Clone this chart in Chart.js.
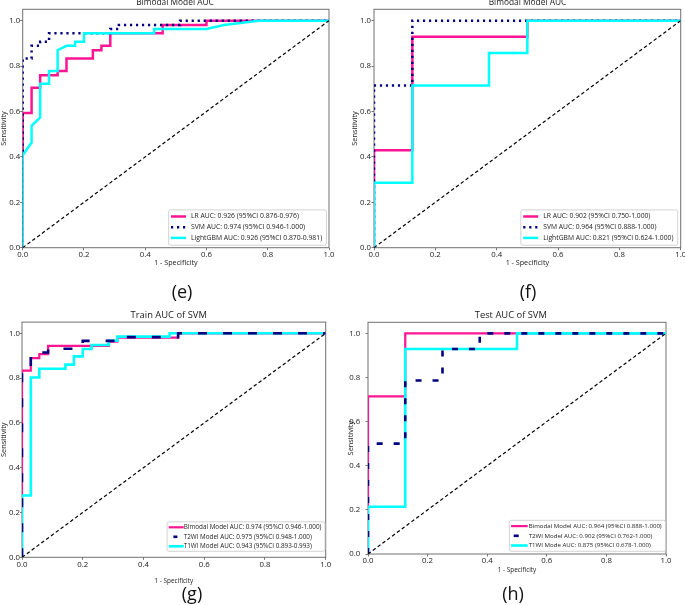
<!DOCTYPE html>
<html><head><meta charset="utf-8">
<script src="https://cdn.jsdelivr.net/npm/chart.js@4.4.1/dist/chart.umd.min.js"></script>
<style>
html,body{margin:0;padding:0;background:#fff;}
#wrap{position:relative;width:685px;height:605px;overflow:hidden;background:#fff;}
canvas{position:absolute;}
.tag{position:absolute;font-family:"Open Sans","Liberation Sans",sans-serif;font-size:18px;color:#111;transform:translate(-50%,-50%);line-height:1;white-space:nowrap;}
</style></head><body>
<div id="wrap">
<canvas id="c1" width="342" height="275" style="left:0px;top:0px"></canvas>
<canvas id="c2" width="343" height="275" style="left:342px;top:0px"></canvas>
<canvas id="c3" width="342" height="295" style="left:0px;top:300px"></canvas>
<canvas id="c4" width="343" height="295" style="left:342px;top:300px"></canvas>
<div class="tag" style="left:182px;top:291px">(e)</div>
<div class="tag" style="left:528px;top:291px">(f)</div>
<div class="tag" style="left:192px;top:593px">(g)</div>
<div class="tag" style="left:513px;top:593px">(h)</div>
</div>
<script>
// ---------- data ----------
const tickVals = [0, 0.2, 0.4, 0.6, 0.8, 1.0];
const tickText = ['0.0', '0.2', '0.4', '0.6', '0.8', '1.0'];
const xAxisTitle = '1 - Specificity';
const yAxisTitle = 'Sensitivity';
const titleE = 'Bimodal Model AUC';
const titleF = 'Bimodal Model AUC';
const titleG = 'Train AUC of SVM';
const titleH = 'Test AUC of SVM';

const diagX = [0, 1];
const diagY = [0, 1];

// (e) train, bimodal
const eLabels = ['LR AUC: 0.926 (95%CI 0.876-0.976)', 'SVM AUC: 0.974 (95%CI 0.946-1.000)', 'LightGBM AUC: 0.926 (95%CI 0.870-0.981)'];
const eLR_fpr = [0, 0, 0.029, 0.029, 0.057, 0.057, 0.114, 0.114, 0.143, 0.143, 0.229, 0.229, 0.257, 0.257, 0.286, 0.286, 0.457, 0.457, 0.6, 0.6, 1];
const eLR_tpr = [0, 0.593, 0.593, 0.704, 0.704, 0.759, 0.759, 0.778, 0.778, 0.833, 0.833, 0.87, 0.87, 0.889, 0.889, 0.944, 0.944, 0.981, 0.981, 1, 1];
const eSVM_fpr = [0, 0, 0.029, 0.029, 0.057, 0.057, 0.086, 0.086, 0.286, 0.286, 0.314, 0.314, 0.514, 0.514, 1];
const eSVM_tpr = [0, 0.833, 0.833, 0.889, 0.889, 0.907, 0.907, 0.944, 0.944, 0.963, 0.963, 0.981, 0.981, 1, 1];
const eGBM_fpr = [0, 0, 0.029, 0.029, 0.057, 0.057, 0.086, 0.086, 0.114, 0.114, 0.143, 0.171, 0.171, 0.2, 0.2, 0.429, 0.429, 0.6, 0.657, 0.771, 1];
const eGBM_tpr = [0, 0.407, 0.463, 0.537, 0.574, 0.722, 0.722, 0.778, 0.778, 0.870, 0.889, 0.889, 0.907, 0.907, 0.944, 0.944, 0.963, 0.963, 0.981, 1, 1];

// (f) test, bimodal
const fLabels = ['LR AUC: 0.902 (95%CI 0.750-1.000)', 'SVM AUC: 0.964 (95%CI 0.888-1.000)', 'LightGBM AUC: 0.821 (95%CI 0.624-1.000)'];
const fLR_fpr = [0, 0, 0.125, 0.125, 0.5, 0.5, 1];
const fLR_tpr = [0, 0.429, 0.429, 0.929, 0.929, 1, 1];
const fSVM_fpr = [0, 0, 0.125, 0.125, 1];
const fSVM_tpr = [0, 0.714, 0.714, 1, 1];
const fGBM_fpr = [0, 0, 0.125, 0.125, 0.375, 0.375, 0.5, 0.5, 1];
const fGBM_tpr = [0, 0.286, 0.286, 0.714, 0.714, 0.857, 0.857, 1, 1];

// (g) train, SVM
const gLabels = ['Bimodal Model AUC: 0.974 (95%CI 0.946-1.000)', 'T2WI Model AUC: 0.975 (95%CI 0.948-1.000)', 'T1WI Model AUC: 0.943 (95%CI 0.893-0.993)'];
const gBi_fpr = [0, 0, 0.029, 0.029, 0.057, 0.057, 0.086, 0.086, 0.286, 0.286, 0.314, 0.314, 0.514, 0.514, 1];
const gBi_tpr = [0, 0.833, 0.833, 0.889, 0.889, 0.907, 0.907, 0.944, 0.944, 0.963, 0.963, 0.981, 0.981, 1, 1];
const gT2_fpr = [0, 0, 0.029, 0.029, 0.086, 0.086, 0.2, 0.2, 0.343, 0.343, 0.514, 0.514, 1];
const gT2_tpr = [0, 0.845, 0.845, 0.914, 0.914, 0.931, 0.931, 0.966, 0.966, 0.983, 0.983, 1, 1];
const gT1_fpr = [0, 0, 0.029, 0.029, 0.057, 0.057, 0.143, 0.143, 0.171, 0.171, 0.2, 0.2, 0.229, 0.229, 0.286, 0.286, 0.314, 0.314, 0.486, 0.486, 1];
const gT1_tpr = [0, 0.276, 0.276, 0.803, 0.803, 0.842, 0.842, 0.86, 0.86, 0.897, 0.897, 0.93, 0.93, 0.948, 0.948, 0.967, 0.967, 0.985, 0.985, 1, 1];

// (h) test, SVM
const hLabels = ['Bimodal Model AUC: 0.964 (95%CI 0.888-1.000)', 'T2WI Model AUC: 0.902 (95%CI 0.762-1.000)', 'T1WI Mode AUC: 0.875 (95%CI 0.678-1.000)'];
const hBi_fpr = [0, 0, 0.125, 0.125, 1];
const hBi_tpr = [0, 0.714, 0.714, 1, 1];
const hT2_fpr = [0, 0, 0.125, 0.125, 0.25, 0.25, 0.375, 0.375, 1];
const hT2_tpr = [0, 0.5, 0.5, 0.786, 0.786, 0.929, 0.929, 1, 1];
const hT1_fpr = [0, 0, 0.125, 0.125, 0.5, 0.5, 1];
const hT1_tpr = [0, 0.214, 0.214, 0.929, 0.929, 1, 1];

// ---------- styling ----------
const FONT = '"Open Sans", "Liberation Sans", sans-serif';
Chart.defaults.font.family = FONT;
const PINK = '#FF1493', NAVY = '#000080', CYAN = '#00FFFF';
const TXT = '#1a1a1a';

function pts(xs, ys) { return xs.map((x, i) => ({ x: x, y: ys[i] })); }
function series(label, xs, ys, color, width, dash, order) {
  return {
    label: label, data: pts(xs, ys), borderColor: color, backgroundColor: color,
    borderWidth: width, borderDash: dash, order: order, showLine: true,
    pointRadius: 0, pointHoverRadius: 0, fill: false, tension: 0, clip: 0,
    borderJoinStyle: 'miter', borderCapStyle: 'butt'
  };
}
function diag() { return series(undefined, diagX, diagY, '#000000', 1.2, [3.5, 2.5], 0); }

const framePlugin = {
  id: 'frame',
  beforeDatasetsDraw(chart) {
    const ctx = chart.ctx, a = chart.chartArea;
    ctx.save(); ctx.strokeStyle = '#707070'; ctx.lineWidth = 1;
    ctx.strokeRect(a.left, a.top, a.right - a.left, a.bottom - a.top);
    ctx.restore();
  }
};
function titlePlugin(T) {
  return {
    id: 'panelTitle',
    afterDraw(chart) {
      const ctx = chart.ctx;
      ctx.save(); ctx.font = T.size + 'px ' + FONT; ctx.fillStyle = TXT;
      ctx.textAlign = 'center'; ctx.textBaseline = 'middle';
      ctx.fillText(T.text, T.x, T.y); ctx.restore();
    }
  };
}
function legendPlugin(L) {
  return {
    id: 'boxLegend',
    afterDraw(chart) {
      const ctx = chart.ctx, a = chart.chartArea;
      const ds = chart.data.datasets.filter(d => d.label);
      ctx.save();
      ctx.font = '10px ' + FONT;
      const longest = Math.max.apply(null, ds.map(d => ctx.measureText(d.label).width));
      const fs = 10 * L.textW / longest;
      const w = L.textX + L.textW + L.padR;
      const right = a.right - L.mr, bottom = a.bottom - L.mb;
      const left = right - w, top = bottom - L.h;
      ctx.beginPath();
      if (ctx.roundRect) ctx.roundRect(left, top, w, L.h, 2); else ctx.rect(left, top, w, L.h);
      ctx.fillStyle = 'rgba(255,255,255,0.85)'; ctx.fill();
      ctx.strokeStyle = '#c8c8c8'; ctx.lineWidth = 0.8; ctx.stroke();
      ctx.font = fs + 'px ' + FONT; ctx.textBaseline = 'middle'; ctx.textAlign = 'left';
      ds.forEach((d, i) => {
        const y = top + L.rows[i], seg = L.segs[i];
        ctx.save();
        ctx.strokeStyle = d.borderColor; ctx.lineWidth = d.borderWidth;
        ctx.setLineDash(d.borderDash || []); ctx.lineCap = 'butt';
        ctx.beginPath(); ctx.moveTo(left + seg[0], y); ctx.lineTo(left + seg[1], y); ctx.stroke();
        ctx.restore();
        ctx.fillStyle = TXT; ctx.fillText(d.label, left + L.textX, y);
      });
      ctx.restore();
    }
  };
}

const panels = [
  { id: 'c1', W: 342, H: 275, ca: { l: 22.7, r: 329, t: 9.3, b: 247.7 },
    title: { text: titleE, x: 175, y: 2.6, size: 8.4 },
    yTitlePad: 0.2, xTitleSize: 7.2, xTitlePadB: 8.4, xTickPad: 1, yTickLen: 2.5, yTickPad: 0,
    legend: { mr: 2.5, mb: 2.5, h: 35.3, rows: [6.6, 17.3, 28], segs: [[2.4, 17.4], [2.4, 17.4], [2.4, 17.4]], textX: 22.4, textW: 131.5, padR: 4 },
    datasets: [
      series(eLabels[0], eLR_fpr, eLR_tpr, PINK, 2.5, [], 3),
      series(eLabels[1], eSVM_fpr, eSVM_tpr, NAVY, 2.5, [2.2, 3.8], 2),
      series(eLabels[2], eGBM_fpr, eGBM_tpr, CYAN, 2.5, [], 1),
      diag()
    ] },
  { id: 'c2', W: 343, H: 275, ca: { l: 32, r: 338.7, t: 9.3, b: 247.7 },
    title: { text: titleF, x: 185.5, y: 2.6, size: 8.4 },
    yTitlePad: 9.2, xTitleSize: 7.2, xTitlePadB: 8.4, xTickPad: 1, yTickLen: 2.5, yTickPad: 0.5,
    legend: { mr: 3, mb: 2.5, h: 35.3, rows: [6.6, 17.3, 28], segs: [[2.4, 17.4], [2.4, 17.4], [2.4, 17.4]], textX: 22.4, textW: 130.5, padR: 4 },
    datasets: [
      series(fLabels[0], fLR_fpr, fLR_tpr, PINK, 2.5, [], 3),
      series(fLabels[1], fSVM_fpr, fSVM_tpr, NAVY, 2.5, [2.2, 3.8], 2),
      series(fLabels[2], fGBM_fpr, fGBM_tpr, CYAN, 2.5, [], 1),
      diag()
    ] },
  { id: 'c3', W: 342, H: 295, ca: { l: 22, r: 325.7, t: 22.1, b: 257.3 },
    title: { text: titleG, x: 168.7, y: 15.3, size: 9.4 },
    yTitlePad: 0, xTitleSize: 6.4, xTitlePadB: 10.8, xTickPad: 1, yTickLen: 2, yTickPad: 0,
    legend: { mr: 0.7, mb: 6, h: 29.5, rows: [5.5, 15, 24.5], segs: [[1.6, 16.6], [6.3, 10.3], [1.6, 16.6]], textX: 16.6, textW: 138, padR: 3.3 },
    datasets: [
      series(gLabels[0], gBi_fpr, gBi_tpr, PINK, 2.2, [], 3),
      series(gLabels[1], gT2_fpr, gT2_tpr, NAVY, 2.6, [9, 16], 1),
      series(gLabels[2], gT1_fpr, gT1_tpr, CYAN, 2.6, [], 2),
      diag()
    ] },
  { id: 'c4', W: 343, H: 295, ca: { l: 26, r: 324, t: 22.3, b: 254 },
    title: { text: titleH, x: 168.8, y: 15.3, size: 9.4 },
    yTitlePad: 5.2, xTitleSize: 6.4, xTitlePadB: 21.8, xTickPad: 0.5, yTickLen: 2.5, yTickPad: 5.2,
    legend: { mr: 0.5, mb: 2.7, h: 31, rows: [5.8, 15.5, 25.2], segs: [[1.7, 18.3], [4.3, 9.3], [1.7, 18.3]], textX: 19.3, textW: 133, padR: 3.8 },
    datasets: [
      series(hLabels[0], hBi_fpr, hBi_tpr, PINK, 2.2, [], 3),
      series(hLabels[1], hT2_fpr, hT2_tpr, NAVY, 2.6, [6, 11], 1),
      series(hLabels[2], hT1_fpr, hT1_tpr, CYAN, 2.6, [], 2),
      diag()
    ] }
];

function build(P) {
  const cv = document.getElementById(P.id);
  return new Chart(cv, {
    type: 'scatter',
    data: { datasets: P.datasets },
    options: {
      responsive: false, animation: false, events: [],
      layout: { padding: { left: 0, top: P.ca.t, right: P.W - P.ca.r, bottom: 0 } },
      plugins: { legend: { display: false }, tooltip: { enabled: false }, title: { display: false } },
      scales: {
        x: {
          type: 'linear', min: 0, max: 1,
          afterBuildTicks: s => { s.ticks = tickVals.map(v => ({ value: v })); },
          afterFit: s => { s.height = P.H - P.ca.b; s.paddingLeft = 0; s.paddingRight = 0; },
          grid: { display: true, drawOnChartArea: false, drawTicks: true, tickLength: 2.5, color: '#555', lineWidth: 0.8 },
          border: { display: false },
          ticks: { autoSkip: false, maxRotation: 0, minRotation: 0, padding: P.xTickPad, color: TXT,
                   font: { size: 7.8, lineHeight: 1 }, callback: (v, i) => tickText[i] },
          title: { display: true, text: xAxisTitle, color: TXT, font: { size: P.xTitleSize, lineHeight: 1 },
                   padding: { top: 0, bottom: P.xTitlePadB } }
        },
        y: {
          type: 'linear', min: 0, max: 1.05,
          afterBuildTicks: s => { s.ticks = tickVals.map(v => ({ value: v })); },
          afterFit: s => { s.width = P.ca.l; s.paddingTop = 0; s.paddingBottom = 0; },
          grid: { display: true, drawOnChartArea: false, drawTicks: true, tickLength: P.yTickLen, color: '#555', lineWidth: 0.8 },
          border: { display: false },
          ticks: { autoSkip: false, padding: P.yTickPad, color: TXT,
                   font: { size: 7.8, lineHeight: 1 }, callback: (v, i) => tickText[i] },
          title: { display: true, text: yAxisTitle, color: TXT, font: { size: 7.4, lineHeight: 1 },
                   padding: { top: P.yTitlePad, bottom: 0 } }
        }
      }
    },
    plugins: [framePlugin, titlePlugin(P.title), legendPlugin(P.legend)]
  });
}
panels.forEach(build);
</script>
</body></html>
